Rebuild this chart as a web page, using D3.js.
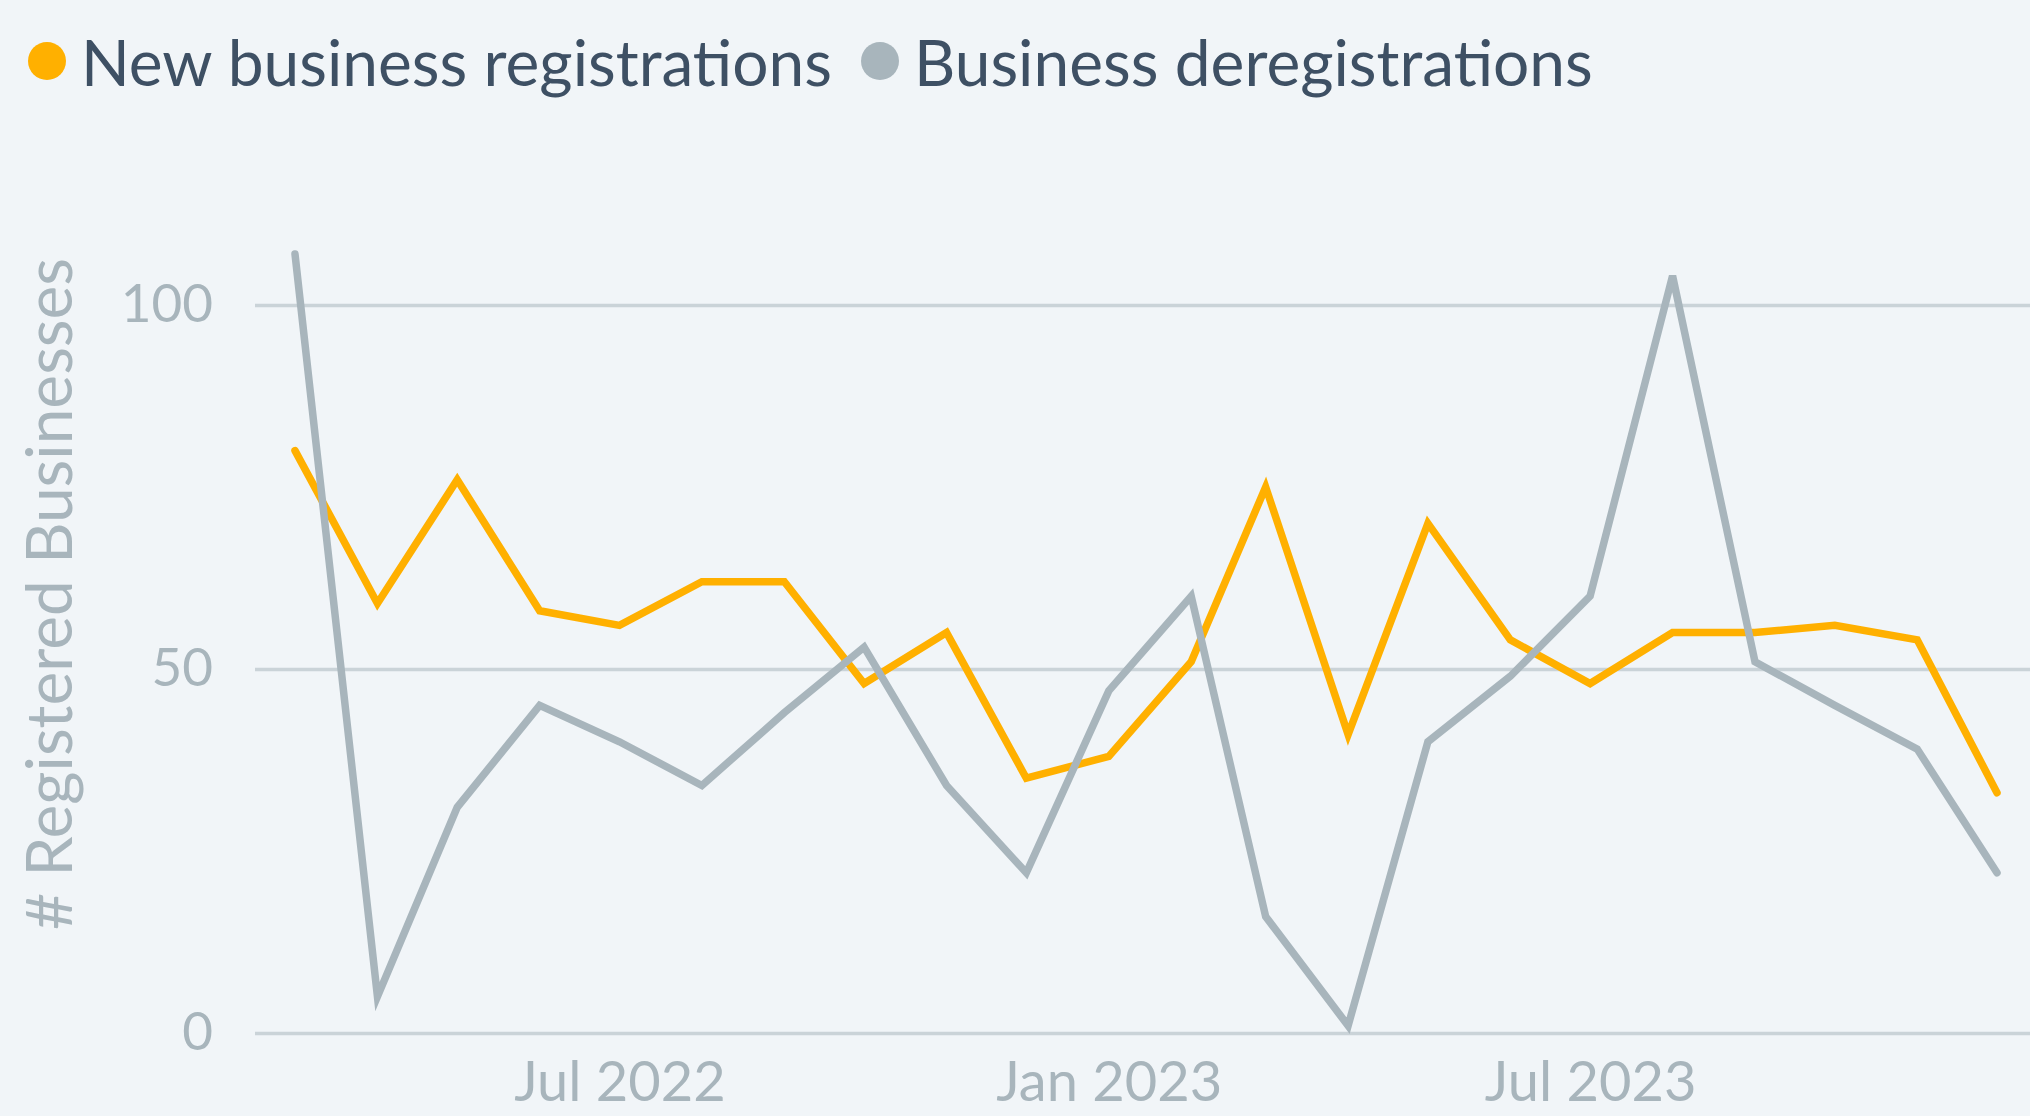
<!DOCTYPE html>
<html>
<head>
<meta charset="utf-8">
<script src="https://cdn.jsdelivr.net/npm/d3@7"></script>
<style>
    body { margin: 0; background: #f1f5f8; }
    svg { display: block; }
</style>
</head>
<body>
<script>
// monthly counts, Mar 2022 - Dec 2023
var months = ["2022-03", "2022-04", "2022-05", "2022-06", "2022-07", "2022-08",
    "2022-09", "2022-10", "2022-11", "2022-12", "2023-01", "2023-02",
    "2023-03", "2023-04", "2023-05", "2023-06", "2023-07", "2023-08",
    "2023-09", "2023-10", "2023-11", "2023-12"];
var registrations = [80, 59, 76, 58, 56, 62, 62, 48, 55, 35, 38, 51,
    75, 41, 70, 54, 48, 55, 55, 56, 54, 33];
var deregistrations = [107, 5, 31, 45, 40, 34, 44, 53, 34, 22, 47, 60,
    16, 1, 40, 49, 60, 104, 51, 45, 39, 22];
var seriesNames = ["New business registrations", "Business deregistrations"];
var xTickLabels = ["2022-07", "2023-01", "2023-07"];
var yTicks = [0, 50, 100];
var yTitle = "# Registered Businesses";

var colors = ["#ffb000", "#a8b5bc"];
var font = "Lato, 'Open Sans', sans-serif";

var width = 2030,
    height = 1116;

var parseMonth = d3.timeParse("%Y-%m");

var x = d3.scaleTime()
    .domain([parseMonth(months[0]), parseMonth(months[months.length - 1])])
    .range([295, 1997]);

var y = d3.scaleLinear()
    .domain([0, 100])
    .range([1033, 305]);

var svg = d3.select("body").append("svg")
    .attr("width", width)
    .attr("height", height);

// gridlines + y labels
var yAxis = svg.append("g")
    .attr("transform", "translate(255,0)")
    .call(d3.axisLeft(y)
        .tickValues(yTicks)
        .tickSize(-(width - 255))
        .tickPadding(42));
yAxis.select(".domain").remove();
yAxis.selectAll(".tick line")
    .attr("stroke", "#cad3d8")
    .attr("stroke-width", 3.5);
yAxis.selectAll(".tick text")
    .attr("fill", "#a8b5bc")
    .style("font-family", font)
    .style("font-size", "53px");

// x labels
var xAxis = svg.append("g")
    .attr("transform", "translate(0,1033)")
    .call(d3.axisBottom(x)
        .tickValues(xTickLabels.map(parseMonth))
        .tickSize(0)
        .tickPadding(28)
        .tickFormat(d3.timeFormat("%b %Y")));
xAxis.select(".domain").remove();
xAxis.selectAll(".tick text")
    .attr("fill", "#a8b5bc")
    .style("font-family", font)
    .style("font-size", "56px");

svg.append("text")
    .attr("transform", "translate(72,594) rotate(-90)")
    .attr("text-anchor", "middle")
    .attr("fill", "#a8b5bc")
    .style("font-family", font)
    .style("font-size", "64px")
    .text(yTitle);

var line = d3.line()
    .x(function(d) { return x(d.date); })
    .y(function(d) { return y(d.value); });

[registrations, deregistrations].forEach(function(values, i) {
    var pts = values.map(function(v, j) {
        return {date: parseMonth(months[j]), value: v};
    });
    svg.append("path")
        .datum(pts)
        .attr("d", line)
        .attr("fill", "none")
        .attr("stroke", colors[i])
        .attr("stroke-width", 7.5)
        .attr("stroke-linejoin", "miter")
        .attr("stroke-linecap", "round");
});

// legend
var legendX = [47, 880];
seriesNames.forEach(function(name, i) {
    svg.append("circle")
        .attr("cx", legendX[i])
        .attr("cy", 61)
        .attr("r", 19)
        .attr("fill", colors[i]);
    svg.append("text")
        .attr("x", legendX[i] + 34)
        .attr("y", 86)
        .attr("fill", "#3e5064")
        .style("font-family", font)
        .style("font-size", "64px")
        .text(name);
});
</script>
</body>
</html>
